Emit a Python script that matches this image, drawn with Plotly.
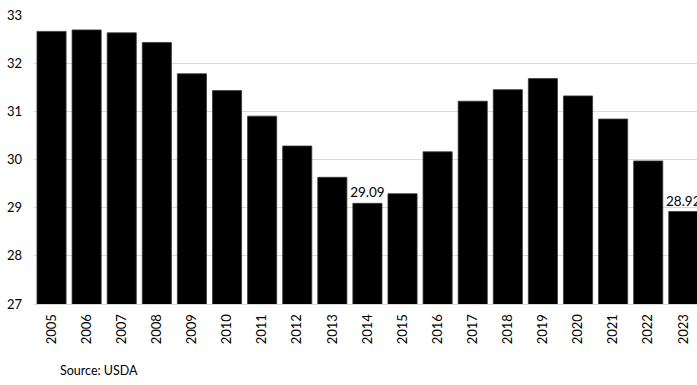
import plotly.graph_objects as go

years = [str(y) for y in range(2005, 2024)]
values = [32.66, 32.69, 32.63, 32.43, 31.78, 31.43, 30.90, 30.28, 29.63, 29.09,
          29.29, 30.16, 31.21, 31.45, 31.68, 31.32, 30.84, 29.97, 28.92]
labelled_years = ["2014", "2023"]
y_ticks = [27, 28, 29, 30, 31, 32, 33]

labels = [f"{v:.2f}" if y in labelled_years else "" for y, v in zip(years, values)]

fig = go.Figure(
    go.Bar(
        x=years,
        y=values,
        text=labels,
        textposition="outside",
        constraintext="none",
        cliponaxis=False,
        textfont=dict(family="Lato, sans-serif", size=13.5, color="#000000"),
        marker=dict(color="#000000", line=dict(color="#3a3a3a", width=0.8)),
    )
)

fig.update_layout(
    width=697,
    height=385,
    margin=dict(l=34, r=0, t=15, b=81),
    paper_bgcolor="white",
    plot_bgcolor="white",
    bargap=0.17,
    showlegend=False,
    font=dict(family="Lato, sans-serif", size=13, color="#000000"),
    xaxis=dict(
        type="category",
        range=[-0.5, 18.39],
        tickangle=-90,
        showgrid=False,
        showline=True,
        linecolor="#d9d9d9",
        linewidth=1,
        ticks="",
        ticklabelstandoff=4,
        tickfont=dict(size=13),
    ),
    yaxis=dict(
        range=[27, 33],
        tickvals=y_ticks,
        showgrid=True,
        gridcolor="#d9d9d9",
        gridwidth=1,
        zeroline=False,
        ticks="",
        ticklabelstandoff=11,
        tickfont=dict(size=13),
    ),
    annotations=[
        dict(
            text="Source: USDA",
            xref="paper",
            yref="paper",
            x=(58 - 34) / 663,
            y=-(370 - 304) / 289,
            xanchor="left",
            yanchor="middle",
            showarrow=False,
            font=dict(size=12.5),
        )
    ],
)

fig.write_html("out.html")
